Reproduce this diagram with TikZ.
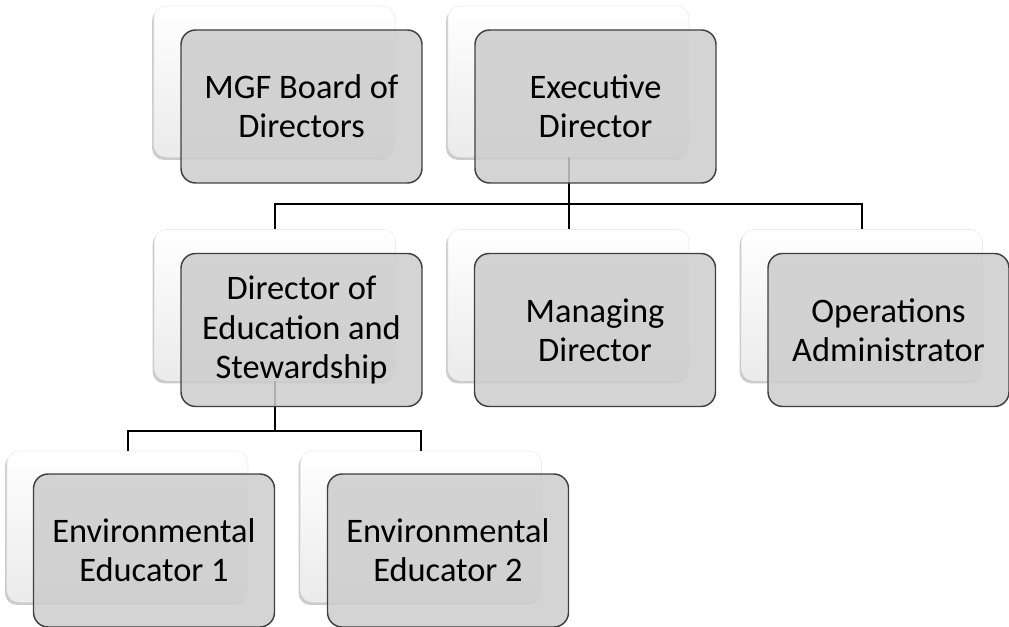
\documentclass[tikz,border=0pt]{standalone}
\usepackage{fontspec}
\setmainfont{Carlito}
\usetikzlibrary{shadows}
\usetikzlibrary{positioning}

\begin{document}
\begin{tikzpicture}[x=0.75pt,y=-0.75pt,
  backcard/.style={rectangle,rounded corners=9pt,minimum width=180.75pt,minimum height=113.25pt,inner sep=0pt,
    top color=white,bottom color=black!8,draw=black!8,
    drop shadow={shadow xshift=-1.5pt,shadow yshift=-2.2pt,opacity=0.4}},
  frontcard/.style={rectangle,rounded corners=11pt,minimum width=180.75pt,minimum height=114.75pt,inner sep=0pt,
    fill=black!20,fill opacity=0.85,text opacity=1,draw=black!75,line width=1.1pt,
    align=center,font=\fontsize{25.8}{29.5}\selectfont},
  link/.style={black,line width=1.5pt}]
\useasboundingbox (0,0) rectangle (1009,627);

% back cards
\node[backcard] (mgfB) at (274.5,81.5) {};
\node[backcard] (execB) at (568.5,81.5) {};
\node[backcard] (dirB) at (275,305) {};
\node[backcard] (mgrB) at (568.5,305) {};
\node[backcard] (opsB) at (862,305) {};
\node[backcard] (envaB) at (127.5,526.5) {};
\node[backcard] (envbB) at (421,526.5) {};

% connectors
\draw[link] (execB.south) -- ++(0,47) coordinate (busA);
\draw[link] (dirB.north) |- (busA) -| (opsB.north);
\draw[link] (busA) -- (mgrB.north);
\draw[link] (dirB.south) -- ++(0,50) coordinate (busB);
\draw[link] (envaB.north) |- (busB) -| (envbB.north);

% front cards
\node[frontcard] (mgf) at ([shift={(27,25)}]mgfB) {MGF Board of\\Directors};
\node[frontcard] (exec) at ([shift={(27,25)}]execB) {Executive\\Director};
\node[frontcard] (dir) at ([shift={(26.5,25)}]dirB) {Director of\\Education and\\Stewardship};
\node[frontcard] (mgr) at ([shift={(26.5,25)}]mgrB) {Managing\\Director};
\node[frontcard] (ops) at ([shift={(26.5,25)}]opsB) {Operations\\Administrator};
\node[frontcard] (enva) at ([shift={(26.5,24)}]envaB) {Environmental\\Educator 1};
\node[frontcard] (envb) at ([shift={(27,24)}]envbB) {Environmental\\Educator 2};

\end{tikzpicture}
\end{document}
